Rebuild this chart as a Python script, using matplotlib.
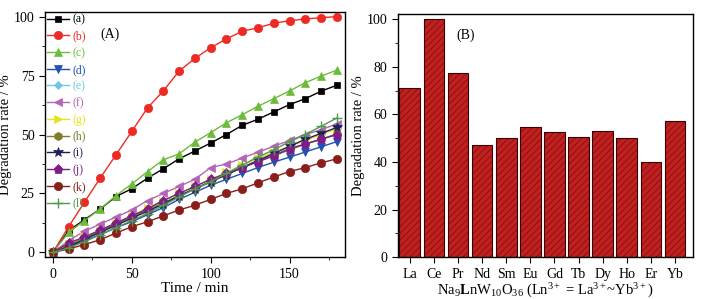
import numpy as np
import matplotlib
matplotlib.use('Agg')
import matplotlib.pyplot as plt

plt.rcParams['font.family'] = ['Liberation Serif', 'DejaVu Serif']
plt.rcParams['mathtext.fontset'] = 'custom'
plt.rcParams['mathtext.rm'] = 'Liberation Serif'
plt.rcParams['mathtext.bf'] = 'Liberation Serif:bold'
plt.rcParams['mathtext.it'] = 'Liberation Serif:italic'
plt.rcParams['hatch.linewidth'] = 0.6

# Dados
tempo = np.arange(0, 190, 10)
serie_a = [0, 9.2, 13.9, 18.4, 23.7, 27, 31.5, 35.5, 39.7, 43, 46.4, 50, 53.9, 56.5, 59.6, 62.7, 65.2, 68.4, 70.9]
serie_b = [0, 10.9, 21.3, 31.5, 41.4, 51.3, 61.3, 68.5, 76.9, 82.3, 86.8, 90.6, 93.8, 95.3, 97.2, 98.3, 99, 99.6, 100]
serie_c = [0, 8.5, 13.5, 18.4, 24.1, 29, 34.3, 39.3, 41.8, 46.8, 50.8, 55, 58.4, 62, 65.2, 68.5, 72, 74.8, 77.3]
serie_d = [0, 2.5, 5, 7.5, 10.5, 13, 16, 19, 22.5, 25.5, 28.5, 31, 33.5, 36, 38.3, 40.4, 42.6, 44.8, 47]
serie_e = [0, 3, 6, 9, 12, 15, 18, 21, 24, 27, 30, 33, 36, 39, 41.5, 44, 46, 48, 50]
serie_f = [0, 5, 9, 12, 15, 18, 22, 25, 28, 31, 36, 37.5, 40, 42.5, 45, 47.5, 50, 52, 54.5]
serie_g = [0, 3.5, 6.5, 9.5, 12.5, 15.5, 19, 22, 25, 28, 31, 34, 37, 40, 42.5, 45, 47.5, 50, 52.5]
serie_h = [0, 3, 6, 9, 12, 15, 18, 21, 24, 27, 30, 33, 36, 38.5, 41, 43.5, 46, 48, 50.3]
serie_i = [0, 2.5, 5.5, 8.5, 11.5, 14.5, 17.5, 20.5, 24, 27, 30, 33, 36, 39, 42, 45, 48, 50.5, 53]
serie_j = [0, 4, 6.5, 9.5, 12.5, 15.5, 18.5, 22, 25, 28, 31, 33.5, 36, 38.5, 41, 44, 46, 48, 50]
serie_k = [0, 1.5, 3.3, 5.4, 8.2, 10.9, 13, 15.5, 18, 20, 22.5, 25, 27, 29.5, 32, 34.3, 36, 38, 39.7]
serie_l = [0, 2, 4.5, 7.5, 10.5, 13.5, 16.5, 20, 23.5, 27, 30, 33.5, 37, 40.5, 43.5, 47, 50, 53.5, 57]

rotulos = ['(a)', '(b)', '(c)', '(d)', '(e)', '(f)', '(g)', '(h)', '(i)', '(j)', '(k)', '(l)']
elementos = ['La', 'Ce', 'Pr', 'Nd', 'Sm', 'Eu', 'Gd', 'Tb', 'Dy', 'Ho', 'Er', 'Yb']
taxa_final = [71, 100, 77.2, 47.3, 50, 54.5, 52.5, 50.3, 53, 50, 40, 57]

series = [serie_a, serie_b, serie_c, serie_d, serie_e, serie_f,
          serie_g, serie_h, serie_i, serie_j, serie_k, serie_l]
cores = ['#000000', '#ee2a24', '#6cbb3c', '#2150b0', '#6cc8e6', '#b565b8',
         '#e6e21c', '#7f7a2c', '#1e1e5a', '#7e1c8a', '#8a1e1a', '#4f9a50']
marcadores = ['s', 'o', '^', 'v', 'D', '<', '>', 'h', '*', 'p', 'o', '+']
tamanhos = [5, 6, 6, 6, 4.5, 6, 6, 6, 7, 6.5, 6, 7]

fig = plt.figure(figsize=(7.07, 2.99), dpi=100)
ax1 = fig.add_axes([0.0636, 0.14, 0.424, 0.82])
ax2 = fig.add_axes([0.5625, 0.14, 0.418, 0.812])

# Painel A
for s, cor, m, ms, rot in zip(series, cores, marcadores, tamanhos, rotulos):
    ax1.plot(tempo, s, color=cor, marker=m, markersize=ms, linewidth=1.0,
             markeredgewidth=1.0 if m == '+' else 0.5,
             markeredgecolor=cor, label=rot)

ax1.set_xlim(-5, 185)
ax1.set_ylim(-2, 102)
ax1.set_xticks([0, 50, 100, 150])
ax1.set_xticks([25, 75, 125, 175], minor=True)
ax1.set_yticks([0, 25, 50, 75, 100])
ax1.set_yticks([12.5, 37.5, 62.5, 87.5], minor=True)
ax1.set_xlabel('Time / min', fontsize=11, labelpad=1)
ax1.set_ylabel('Degradation rate / %', fontsize=10.5, labelpad=1)
ax1.text(30, 91, '(A)', fontsize=10)
leg = ax1.legend(loc='upper left', frameon=False, fontsize=8.5, borderaxespad=0.05,
                 borderpad=0.1, labelspacing=0.4, handlelength=1.9, handletextpad=0.3)
for txt, cor in zip(leg.get_texts(), cores):
    txt.set_color(cor)

# Painel B
posicoes = np.arange(len(elementos))
ax2.bar(posicoes, taxa_final, width=0.86, color='#bf2020', edgecolor='#8c0c0c',
        linewidth=0, hatch='/////')
ax2.bar(posicoes, taxa_final, width=0.86, fill=False, edgecolor='#3a0000',
        linewidth=0.8)
ax2.set_xlim(-0.5, 11.75)
ax2.set_ylim(0, 102)
ax2.set_xticks(posicoes)
ax2.set_xticklabels(elementos)
ax2.set_yticks([0, 20, 40, 60, 80, 100])
ax2.set_yticks([10, 30, 50, 70, 90], minor=True)
ax2.set_ylabel('Degradation rate / %', fontsize=10.5, labelpad=1)
ax2.set_xlabel(r'Na$_9$$\mathbf{L}$nW$_{10}$O$_{36}$ (Ln$^{3+}$ = La$^{3+}$~Yb$^{3+}$)',
               fontsize=10.5, labelpad=1)
ax2.text(0.2, 0.9, '(B)', transform=ax2.transAxes, fontsize=10)

for ax in (ax1, ax2):
    ax.tick_params(which='both', direction='out', top=False, right=False, labelsize=10)
    ax.tick_params(which='major', length=4)
    ax.tick_params(which='minor', length=2)
    for sp in ax.spines.values():
        sp.set_linewidth(1.0)

fig.savefig('out.png', dpi=100)
